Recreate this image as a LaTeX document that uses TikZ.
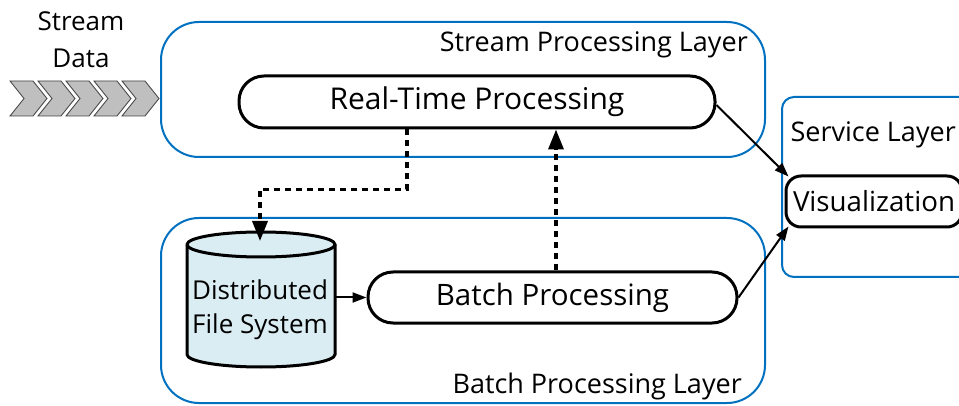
\documentclass[tikz,border=0pt]{standalone}
\usepackage{fontspec}
\setmainfont{Open Sans}
\usetikzlibrary{arrows.meta}
\definecolor{layerblue}{RGB}{0,112,192}
\definecolor{dfsblue}{RGB}{218,237,243}
\definecolor{chevfill}{RGB}{191,191,191}
\definecolor{chevline}{RGB}{64,64,64}
\tikzset{
  layerbox/.style={draw=layerblue, line width=2pt, rounded corners=38pt, inner sep=0pt},
  procbox/.style={draw=black, line width=3pt, fill=white, inner sep=0pt, minimum height=51pt},
  layerlabel/.style={inner sep=0pt, font=\fontsize{27}{33}\selectfont},
  dasharrow/.style={line width=3.5pt, dash pattern=on 6pt off 5pt, -{Triangle[length=20pt,width=15pt]}},
  solidarrow/.style={line width=2pt, -{Triangle[length=14pt,width=10pt]}},
  chev/.style={fill=chevfill, draw=chevline, line width=0.8pt, line join=miter}
}
\begin{document}
\begin{tikzpicture}[x=1pt,y=1pt]
\useasboundingbox (0,0) rectangle (959,-406);
% layers
\node[layerbox, minimum width=604pt, minimum height=135pt] (streamlayer) at (463,-89.5) {};
\node[layerbox, minimum width=604pt, minimum height=185pt] (batchlayer) at (463,-310.5) {};
\node[layerbox, rounded corners=12pt, minimum width=208pt, minimum height=180pt] (servicelayer) at (886,-187) {};
\node[layerlabel, anchor=base east] (streamlbl) at (748,-52) {Stream Processing Layer};
\node[layerlabel, anchor=base east] (batchlbl) at (742,-393) {Batch Processing Layer};
\node[layerlabel, anchor=base east] (servicelbl) at (956,-142) {Service Layer};
% stream data
\node[inner sep=0pt, align=center, font=\fontsize{26}{37}\selectfont] (streamdata) at (81,-40) {Stream\\Data};
\foreach \i in {0,...,4}{
  \pgfmathsetmacro{\xo}{10+28*\i}
  \draw[chev] (\xo,-81) -- (\xo+23,-81) -- (\xo+37,-98.5) -- (\xo+23,-116) -- (\xo,-116) -- (\xo+14,-98.5) -- cycle;
}
% processing nodes
\node[procbox, rounded corners=25pt, minimum width=476pt, minimum height=52pt, font=\fontsize{30}{36}\selectfont] (rt) at (477,-102) {Real-Time Processing};
\node[procbox, rounded corners=25pt, minimum width=369pt, font=\fontsize{29.5}{36}\selectfont] (bp) at (552.5,-297.5) {Batch Processing};
\node[procbox, rounded corners=15pt, minimum width=176pt, font=\fontsize{27.7}{34}\selectfont] (vis) at (874,-201.5) {Visualization};
% cylinder
\filldraw[fill=dfsblue, draw=black, line width=3pt]
  (187,-244.5) -- (187,-354.5) arc[start angle=180, end angle=360, x radius=74pt, y radius=12.5pt]
  -- (335,-244.5) arc[start angle=0, end angle=180, x radius=74pt, y radius=12.5pt] -- cycle;
\draw[line width=3pt] (187,-244.5) arc[start angle=180, end angle=360, x radius=74pt, y radius=12.5pt];
\node[inner sep=0pt, minimum width=148pt, align=center, font=\fontsize{26}{34}\selectfont] (dfs) at (260,-310) {Distributed\\File System};
\coordinate (dfstop) at (260,-241);
% connectors
\draw[dasharrow] ([xshift=-70pt]rt.south) -- ++(0,-60) -| (dfstop);
\draw[dasharrow] ([xshift=3.5pt]bp.north) -- ([xshift=3.5pt]bp.north |- rt.south);
\draw[solidarrow] (dfs.east |- bp.west) -- (bp.west);
\draw[solidarrow] ([yshift=-3pt]rt.east) -- ([xshift=4pt,yshift=-2pt]vis.north west);
\draw[solidarrow] (bp.east) -- ([xshift=4pt,yshift=2pt]vis.south west);
\end{tikzpicture}
\end{document}
